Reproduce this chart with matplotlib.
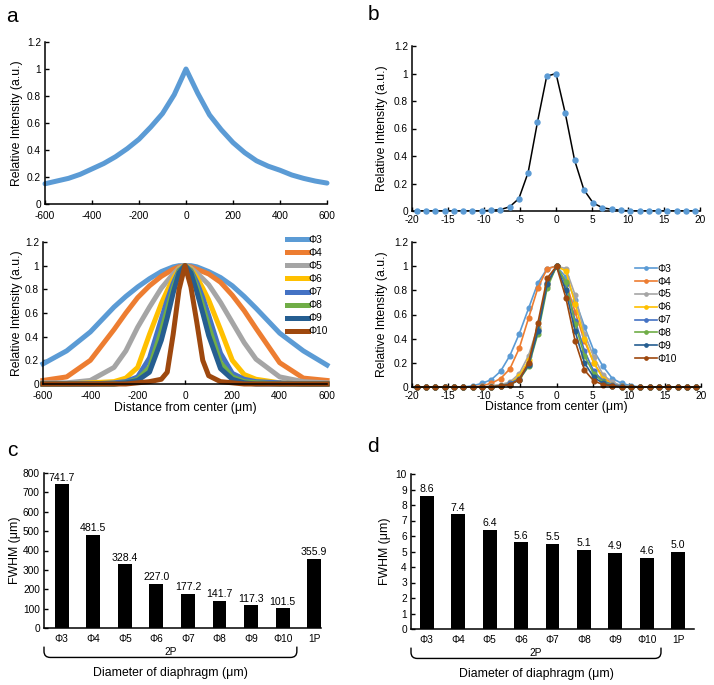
import matplotlib
matplotlib.use('Agg')
import matplotlib.pyplot as plt
import matplotlib.transforms as mtransforms
from matplotlib.path import Path
from matplotlib.patches import PathPatch

plt.rcParams['font.family'] = ['Liberation Sans', 'DejaVu Sans']
plt.rcParams['font.size'] = 7.3

# ---- panel a, top: 1P lateral profile ----
a_top_x = [-600, -550, -500, -450, -400, -350, -300, -250, -200, -150, -100, -50, 0,
           50, 100, 150, 200, 250, 300, 350, 400, 450, 500, 550, 600]
a_top_y = [0.15, 0.17, 0.19, 0.22, 0.26, 0.3, 0.35, 0.41, 0.48, 0.57, 0.67, 0.81, 1.0,
           0.82, 0.66, 0.55, 0.455, 0.38, 0.32, 0.28, 0.25, 0.215, 0.19, 0.17, 0.155]

# ---- panel a, bottom: 2P profiles per diaphragm ----
a_bot_x = [-600, -500, -400, -300, -250, -200, -150, -100, -75, -50, -25, 0,
           25, 50, 75, 100, 150, 200, 250, 300, 400, 500, 600]
a_phi3 = [0.17, 0.28, 0.44, 0.65, 0.74, 0.82, 0.89, 0.95, 0.97, 0.99, 1.0, 1.0,
          1.0, 0.99, 0.97, 0.95, 0.9, 0.83, 0.74, 0.64, 0.43, 0.28, 0.16]
a_phi4 = [0.03, 0.06, 0.2, 0.46, 0.6, 0.73, 0.83, 0.91, 0.94, 0.97, 0.99, 1.0,
          0.99, 0.97, 0.95, 0.93, 0.86, 0.75, 0.62, 0.47, 0.18, 0.05, 0.03]
a_phi5 = [0.01, 0.01, 0.03, 0.14, 0.28, 0.48, 0.65, 0.81, 0.87, 0.93, 0.98, 1.0,
          0.98, 0.94, 0.89, 0.84, 0.69, 0.52, 0.35, 0.21, 0.06, 0.02, 0.01]
a_phi6 = [0.0, 0.0, 0.01, 0.02, 0.05, 0.14, 0.42, 0.68, 0.79, 0.89, 0.97, 1.0,
          0.97, 0.9, 0.81, 0.71, 0.46, 0.2, 0.08, 0.04, 0.01, 0.0, 0.0]
a_phi7 = [0.0, 0.0, 0.0, 0.01, 0.02, 0.06, 0.22, 0.55, 0.71, 0.85, 0.96, 1.0,
          0.96, 0.86, 0.73, 0.58, 0.26, 0.09, 0.04, 0.02, 0.01, 0.0, 0.0]
a_phi8 = [0.0, 0.0, 0.0, 0.0, 0.01, 0.04, 0.14, 0.45, 0.63, 0.81, 0.95, 1.0,
          0.95, 0.82, 0.66, 0.49, 0.18, 0.06, 0.02, 0.01, 0.0, 0.0, 0.0]
a_phi9 = [0.0, 0.0, 0.0, 0.0, 0.01, 0.03, 0.1, 0.37, 0.56, 0.77, 0.94, 1.0,
          0.94, 0.78, 0.6, 0.41, 0.13, 0.04, 0.01, 0.0, 0.0, 0.0, 0.0]
a_phi10 = [0.0, 0.0, 0.0, 0.0, 0.0, 0.01, 0.02, 0.04, 0.1, 0.42, 0.8, 1.0,
           0.82, 0.52, 0.2, 0.07, 0.02, 0.01, 0.0, 0.0, 0.0, 0.0, 0.0]

# ---- panel b: axial profiles (sampled every ~1.29 um) ----
b_x = [-19.35, -18.06, -16.77, -15.48, -14.19, -12.9, -11.61, -10.32, -9.03, -7.74, -6.45,
       -5.16, -3.87, -2.58, -1.29, 0.0, 1.29, 2.58, 3.87, 5.16, 6.45, 7.74, 9.03, 10.32,
       11.61, 12.9, 14.19, 15.48, 16.77, 18.06, 19.35]
b_top = [0, 0, 0, 0, 0, 0, 0, 0, 0.005, 0.01, 0.03, 0.09, 0.28, 0.645, 0.98, 1.0,
         0.71, 0.37, 0.155, 0.058, 0.024, 0.012, 0.005, 0, 0, 0, 0, 0, 0, 0, 0]
b_phi3 = [0, 0, 0, 0, 0, 0, 0.01, 0.03, 0.06, 0.13, 0.26, 0.44, 0.65, 0.86, 0.98, 1.0,
          0.91, 0.72, 0.5, 0.3, 0.17, 0.07, 0.03, 0.01, 0, 0, 0, 0, 0, 0, 0]
b_phi4 = [0, 0, 0, 0, 0, 0, 0, 0.01, 0.03, 0.07, 0.15, 0.32, 0.57, 0.82, 0.98, 1.0,
          0.87, 0.62, 0.38, 0.2, 0.08, 0.03, 0.01, 0, 0, 0, 0, 0, 0, 0, 0]
b_phi5 = [0, 0, 0, 0, 0, 0, 0, 0, 0.01, 0.02, 0.04, 0.11, 0.26, 0.5, 0.84, 1.0,
          0.98, 0.76, 0.44, 0.25, 0.1, 0.04, 0.01, 0, 0, 0, 0, 0, 0, 0, 0]
b_phi6 = [0, 0, 0, 0, 0, 0, 0, 0, 0, 0.01, 0.03, 0.09, 0.22, 0.48, 0.85, 1.0,
          0.96, 0.69, 0.4, 0.2, 0.07, 0.02, 0.01, 0, 0, 0, 0, 0, 0, 0, 0]
b_phi7 = [0, 0, 0, 0, 0, 0, 0, 0, 0, 0.01, 0.03, 0.07, 0.19, 0.47, 0.86, 1.0,
          0.85, 0.55, 0.3, 0.13, 0.05, 0.02, 0.01, 0, 0, 0, 0, 0, 0, 0, 0]
b_phi8 = [0, 0, 0, 0, 0, 0, 0, 0, 0, 0.01, 0.02, 0.06, 0.17, 0.44, 0.82, 1.0,
          0.87, 0.52, 0.26, 0.11, 0.04, 0.01, 0, 0, 0, 0, 0, 0, 0, 0, 0]
b_phi9 = [0, 0, 0, 0, 0, 0, 0, 0, 0, 0.01, 0.02, 0.06, 0.18, 0.46, 0.85, 1.0,
          0.8, 0.46, 0.2, 0.08, 0.03, 0.01, 0, 0, 0, 0, 0, 0, 0, 0, 0]
b_phi10 = [0, 0, 0, 0, 0, 0, 0, 0, 0, 0.01, 0.02, 0.06, 0.2, 0.53, 0.9, 1.0,
           0.74, 0.38, 0.14, 0.05, 0.02, 0.01, 0, 0, 0, 0, 0, 0, 0, 0, 0]

series_names = ['Φ3', 'Φ4', 'Φ5', 'Φ6', 'Φ7', 'Φ8', 'Φ9', 'Φ10']
series_colors = ['#5B9BD5', '#ED7D31', '#A5A5A5', '#FFC000', '#4472C4', '#70AD47', '#255E91', '#9E480E']

# ---- panels c, d: FWHM bars ----
bar_labels = ['Φ3', 'Φ4', 'Φ5', 'Φ6', 'Φ7', 'Φ8', 'Φ9', 'Φ10', '1P']
fwhm_lateral = [741.7, 481.5, 328.4, 227.0, 177.2, 141.7, 117.3, 101.5, 355.9]
fwhm_axial = [8.6, 7.4, 6.4, 5.6, 5.5, 5.1, 4.9, 4.6, 5.0]

W, H = 714, 685
fig = plt.figure(figsize=(W / 100, H / 100), dpi=100)
TICK = 7.3
LABEL = 8.8


def add_ax(l, t, r, b):
    # box given in pixels from the top-left corner
    ax = fig.add_axes([l / W, 1 - b / H, (r - l) / W, (b - t) / H])
    for s in ['top', 'right']:
        ax.spines[s].set_visible(False)
    for s in ['left', 'bottom']:
        ax.spines[s].set_linewidth(1.1)
    ax.tick_params(direction='in', length=3, width=1, labelsize=TICK)
    ax.tick_params(axis='x', pad=3)
    ax.tick_params(axis='y', pad=3)
    return ax


def intensity_axis(ax, xlim, xticks):
    ax.set_xlim(*xlim)
    ax.set_ylim(0, 1.2)
    ax.set_xticks(xticks)
    ax.set_xticklabels([str(t) for t in xticks])
    ax.set_yticks([0, 0.2, 0.4, 0.6, 0.8, 1.0, 1.2])
    ax.set_yticklabels(['0', '0.2', '0.4', '0.6', '0.8', '1', '1.2'])
    ax.set_ylabel('Relative Intensity (a.u.)', fontsize=LABEL)


a_ticks = [-600, -400, -200, 0, 200, 400, 600]
b_ticks = [-20, -15, -10, -5, 0, 5, 10, 15, 20]

# a top
ax = add_ax(45, 42, 327, 204)
ax.plot(a_top_x, a_top_y, color='#5B9BD5', lw=3.6, solid_capstyle='round', clip_on=False)
intensity_axis(ax, (-600, 600), a_ticks)
ax.tick_params(axis='x', pad=5)
ax.yaxis.set_label_coords(-0.078, 0.5)

# a bottom
ax = add_ax(43, 242, 327, 384)
a_series = [a_phi3, a_phi4, a_phi5, a_phi6, a_phi7, a_phi8, a_phi9, a_phi10]
for ys, name, c in zip(a_series, series_names, series_colors):
    ax.plot(a_bot_x, ys, color=c, lw=3.6, label=name, clip_on=False)
intensity_axis(ax, (-600, 600), a_ticks)
ax.tick_params(axis='x', pad=5)
ax.yaxis.set_label_coords(-0.07, 0.5)
ax.set_xlabel('Distance from center (μm)', fontsize=LABEL)
ax.xaxis.set_label_coords(0.5, -0.125)
ax.legend(loc='upper left', bbox_to_anchor=(0.86, 1.05), frameon=False, fontsize=TICK,
          handlelength=2.0, handletextpad=0.1, labelspacing=0.3, borderpad=0, borderaxespad=0)

# b top
ax = add_ax(412, 46, 700, 211)
ax.plot(b_x, b_top, color='black', lw=1.1)
ax.plot(b_x, b_top, 'o', color='#5B9BD5', ms=3.6, zorder=3, clip_on=False)
intensity_axis(ax, (-20, 20), b_ticks)
ax.yaxis.set_label_coords(-0.083, 0.5)

# b bottom
ax = add_ax(412, 242, 701, 387)
b_series = [b_phi3, b_phi4, b_phi5, b_phi6, b_phi7, b_phi8, b_phi9, b_phi10]
for ys, name, c in zip(b_series, series_names, series_colors):
    ax.plot(b_x, ys, '-o', color=c, lw=1.2, ms=3.4, label=name, clip_on=False)
intensity_axis(ax, (-20, 20), b_ticks)
ax.yaxis.set_label_coords(-0.083, 0.5)
ax.set_xlabel('Distance from center (μm)', fontsize=LABEL)
ax.xaxis.set_label_coords(0.5, -0.1)
ax.legend(loc='upper left', bbox_to_anchor=(0.77, 0.85), frameon=False, fontsize=TICK,
          handlelength=2.2, handletextpad=0.1, labelspacing=0.28, borderpad=0, borderaxespad=0,
          markerscale=0.7)


def bar_panel(ax, vals, yticks, xlim, fmt):
    xs = list(range(len(vals)))
    ax.bar(xs, vals, width=0.44, color='black')
    ax.set_xlim(*xlim)
    ax.set_ylim(yticks[0], yticks[-1])
    ax.set_yticks(yticks)
    ax.set_xticks(xs)
    ax.set_xticklabels(bar_labels)
    ax.tick_params(axis='x', length=0, pad=4)
    for x, v in zip(xs, vals):
        ax.annotate(fmt.format(v), (x, v), xytext=(0, 1.2), textcoords='offset points',
                    ha='center', va='bottom', fontsize=7.6)
    ax.set_ylabel('FWHM (μm)', fontsize=LABEL)

    # bracket grouping the 2P bars
    trans = mtransforms.blended_transform_factory(ax.transData, ax.transAxes)
    x0, x1 = xlim[0], 7.45
    y0, y1 = -0.12, -0.19
    rx, ry = 0.2, 0.04
    verts = [(x0, y0), (x0, y1 + ry), (x0, y1), (x0 + rx, y1),
             (x1 - rx, y1), (x1, y1), (x1, y1 + ry), (x1, y0)]
    codes = [Path.MOVETO, Path.LINETO, Path.CURVE3, Path.CURVE3,
             Path.LINETO, Path.CURVE3, Path.CURVE3, Path.LINETO]
    ax.add_patch(PathPatch(Path(verts, codes), fill=False, lw=1, color='black',
                           transform=trans, clip_on=False))
    xm = (x0 + x1) / 2
    ax.text(xm, -0.155, '2P', transform=trans, ha='center', va='center', fontsize=TICK)
    ax.text(xm, -0.29, 'Diameter of diaphragm (μm)', transform=trans,
            ha='center', va='center', fontsize=LABEL)


# c
ax = add_ax(44, 473, 330, 628)
bar_panel(ax, fwhm_lateral, list(range(0, 801, 100)), (-0.56, 8.5), '{:.1f}')
ax.spines['bottom'].set_bounds(-0.56, 8.22)
ax.yaxis.set_label_coords(-0.08, 0.5)

# d
ax = add_ax(411, 474, 694, 629)
bar_panel(ax, fwhm_axial, list(range(0, 11)), (-0.5, 8.5), '{:.1f}')
ax.yaxis.set_label_coords(-0.07, 0.5)

# panel letters
for letter, px, py in [('a', 12, 17), ('b', 373, 15), ('c', 12, 451), ('d', 373, 446)]:
    fig.text(px / W, 1 - py / H, letter, fontsize=15, ha='center', va='center')

fig.savefig('out.png', dpi=100)
